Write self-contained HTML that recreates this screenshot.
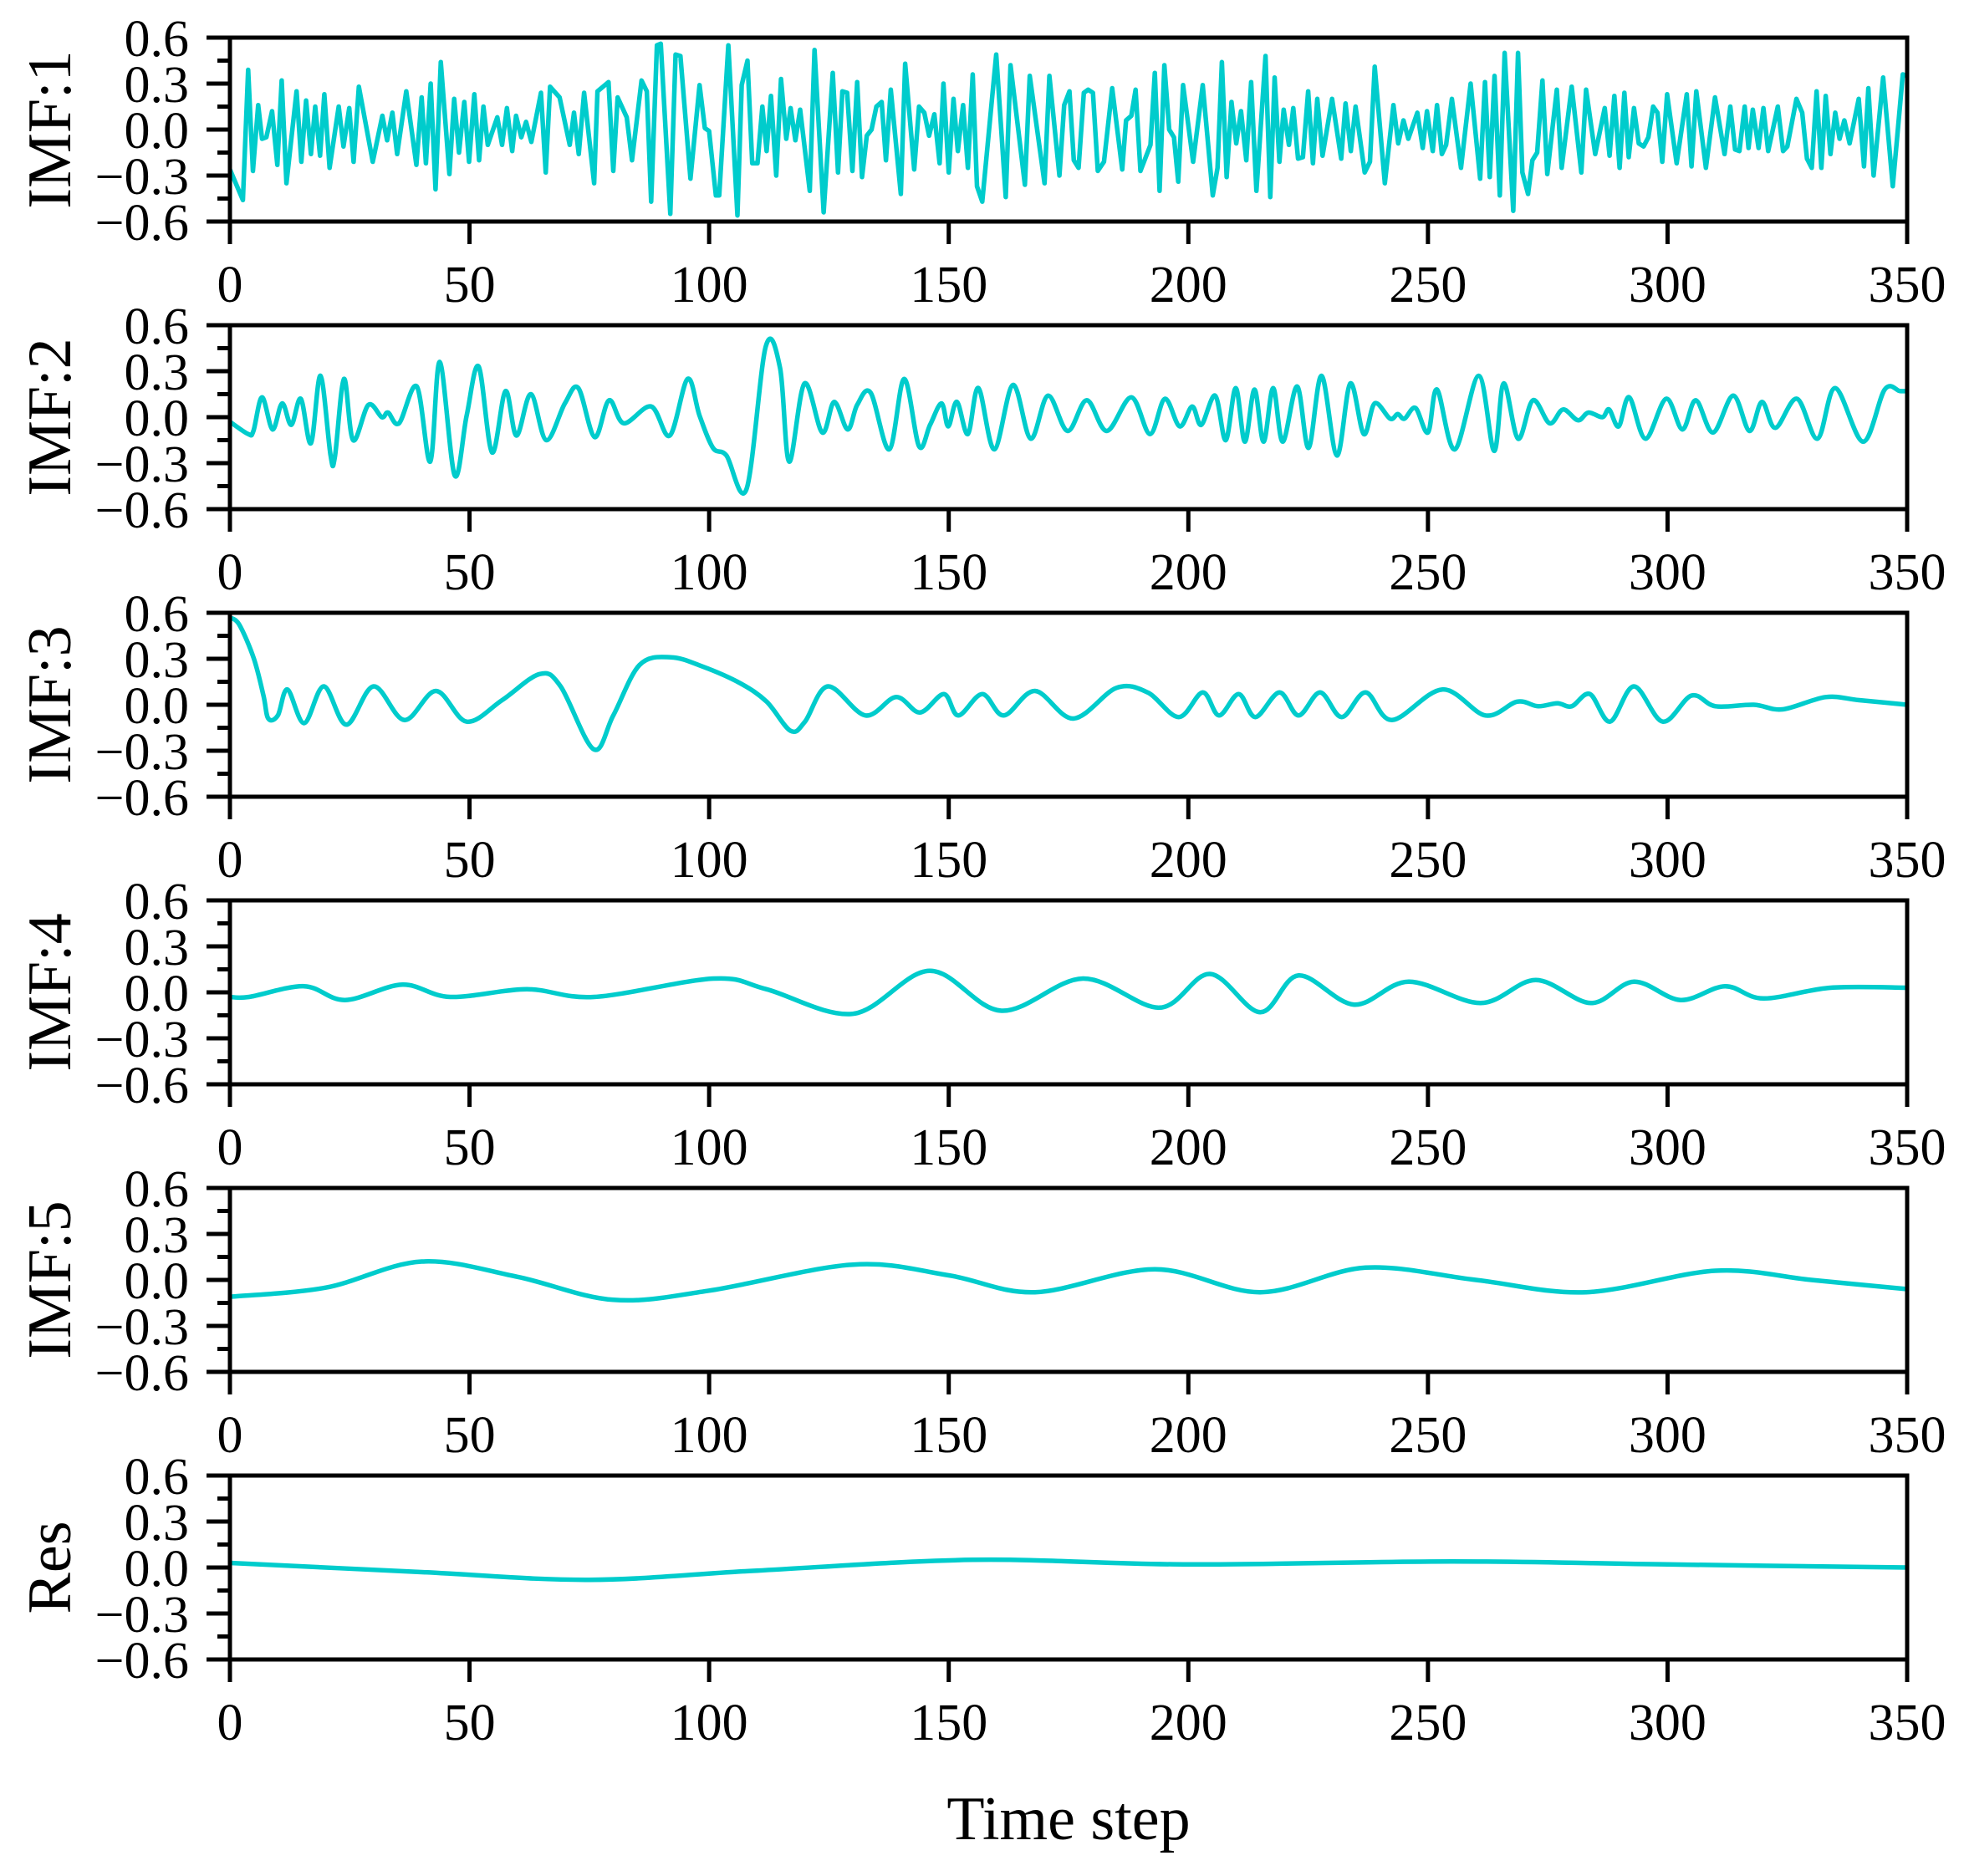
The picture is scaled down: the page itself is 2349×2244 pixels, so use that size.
<!DOCTYPE html>
<html><head><meta charset="utf-8">
<style>
html,body{margin:0;padding:0;background:#fff;}
svg{display:block;font-family:"Liberation Serif","Times New Roman",serif;}
</style></head>
<body>
<svg id="chart" width="2349" height="2244" viewBox="0 0 2349 2244" xmlns="http://www.w3.org/2000/svg">
<rect width="2349" height="2244" fill="#fff"/>
<text x="1278" y="2200" font-size="74" text-anchor="middle">Time step</text>
</svg>
<script>
const panelNames = ["IMF:1","IMF:2","IMF:3","IMF:4","IMF:5","Res"];
const xTicks = [0,50,100,150,200,250,300,350];
const yTicks = [0.6,0.3,0.0,-0.3,-0.6];
const yTickLabels = ["0.6","0.3","0.0","\u22120.3","\u22120.6"];

const t1 = [0,2.7,3.8,4.8,5.9,6.7,7.6,8.8,9.9,10.8,11.8,13.9,14.9,15.9,16.9,17.8,18.8,19.7,20.8,22.7,23.7,24.9,25.8,26.9,29.8,31.8,32.8,33.9,34.9,36.8,38.9,40,40.9,41.9,42.9,44,45.8,46.8,47.8,48.9,49.9,51,52,52.9,53.8,55.8,56.8,57.8,58.9,59.7,60.8,61.8,62.9,64.9,65.9,66.8,68.8,70.9,71.8,72.8,73.9,76,76.7,79,80,80.9,82.8,83.9,85.9,87,87.9,89.1,89.9,91.9,93,94,96.1,98,99.1,100,101.4,102.1,104,105.9,106.8,108,109,110.1,111.1,112,112.9,114,115,116.1,117,118,119,121,122,123.9,125.8,126.9,127.8,128.8,129.9,130.9,131.9,132.9,133.9,134.9,136,136.9,137.9,140,140.9,142.8,143.8,144.9,145.9,147,148.1,148.9,150,151,151.9,153,154,155,155.9,157,159.9,161.9,162.9,165.9,166.9,170,171,173.1,174.1,175.2,176.1,177.1,178.2,179.1,180.1,181.1,182.4,184.1,186.2,187,188.1,189,190,192.1,193,194,195,196,197,197.9,198.9,201,203,205.1,206.1,207,208,209,210,211,212.1,213.1,214.2,216.1,217.1,218,219,219.9,221,221.9,222.9,223.9,225,226,226.9,228,230,231.9,232.8,233.9,234.9,236.8,237.9,238.9,241,242.8,243.8,244.9,245.9,247.8,248.9,249.8,251,251.9,252.9,253.8,255,256.9,258.9,260.9,261.9,262.9,263.9,265,266,267.8,268.8,269.7,270.9,271.8,272.8,273.9,274.9,276.9,277.9,280,282,283,284.9,286.9,287.9,288.9,290,291,291.9,293,294,295,296,297,297.9,298.9,299.9,301.9,304,305,306,308,309.9,311.9,313.1,314.1,315,316.1,316.9,317.8,319,320,321,323,324.1,325,326.9,328.1,329.1,330.1,331.1,332.1,333,334,335,335.9,336.9,338,339.9,341,341.9,343,345,347,349.1,350];
const v1 = [-0.26,-0.46,0.39,-0.27,0.16,-0.06,-0.05,0.12,-0.23,0.32,-0.35,0.25,-0.21,0.19,-0.16,0.15,-0.17,0.23,-0.25,0.15,-0.11,0.14,-0.21,0.28,-0.21,0.09,-0.07,0.11,-0.16,0.25,-0.23,0.21,-0.22,0.30,-0.39,0.44,-0.29,0.20,-0.15,0.18,-0.21,0.23,-0.20,0.15,-0.10,0.08,-0.10,0.14,-0.14,0.09,-0.05,0.05,-0.08,0.24,-0.28,0.28,0.21,-0.10,0.11,-0.16,0.24,-0.35,0.25,0.31,-0.27,0.21,0.08,-0.20,0.32,0.25,-0.47,0.55,0.56,-0.55,0.49,0.48,-0.32,0.29,0.01,-0.01,-0.43,-0.43,0.55,-0.56,0.29,0.45,-0.22,-0.22,0.15,-0.14,0.22,-0.30,0.33,-0.06,0.14,-0.07,0.13,-0.40,0.52,-0.54,0.37,-0.28,0.25,0.24,-0.27,0.31,-0.31,-0.04,0.00,0.15,0.18,-0.20,0.26,-0.42,0.43,-0.26,0.15,0.11,-0.04,0.10,-0.22,0.30,-0.28,0.20,-0.14,0.16,-0.25,0.36,-0.37,-0.47,0.49,-0.44,0.42,-0.36,0.35,-0.35,0.35,-0.30,0.16,0.25,-0.20,-0.25,0.24,0.26,0.24,-0.27,-0.21,0.27,-0.26,0.06,0.09,0.26,-0.27,-0.10,0.37,-0.40,0.42,0.00,-0.05,-0.34,0.29,-0.21,0.29,-0.43,-0.25,0.44,-0.31,0.18,-0.09,0.12,-0.20,0.31,-0.40,0.48,-0.44,0.34,-0.21,0.13,-0.10,0.14,-0.19,-0.18,0.25,-0.22,0.20,-0.17,0.20,-0.19,0.17,-0.14,0.15,-0.28,-0.21,0.41,-0.35,0.16,-0.09,0.06,-0.06,0.11,-0.12,0.12,-0.14,0.16,-0.16,-0.10,0.20,-0.25,0.30,-0.32,0.31,-0.31,0.35,-0.43,0.50,-0.53,0.50,-0.28,-0.42,-0.20,-0.15,0.32,-0.29,0.26,-0.25,0.28,-0.28,0.26,-0.16,0.14,-0.17,0.22,-0.25,0.24,-0.18,0.14,-0.09,-0.11,-0.05,0.15,0.11,-0.21,0.23,-0.22,0.23,-0.24,0.25,-0.25,0.21,-0.16,0.15,-0.13,-0.14,0.15,-0.12,0.13,-0.12,0.14,-0.14,0.15,-0.14,-0.11,0.20,0.11,-0.19,-0.25,0.25,-0.25,0.22,-0.16,0.11,-0.06,0.06,-0.09,0.20,-0.24,0.27,-0.30,0.34,-0.37,0.36,0.35];

const t2 = [0,3.8,4.9,6.7,8.9,10.9,12.8,14.8,16.9,18.9,21,21.9,23.8,25.7,28.9,31.7,33,35.3,39,41.8,43.8,46.9,49.4,51.9,54.7,57.5,59.8,62.8,66,69.9,72.7,76.1,79.1,82.2,87.9,91.8,95.5,98,100.8,103.6,107.8,111.8,114.8,116.7,119.9,123.6,126.1,128.9,130.9,133.7,137.6,140.7,143.8,146.1,148.5,149.9,151.7,154,156.2,159.5,163.4,167.1,170.7,174.8,178.8,183,188.1,192,195.1,198.2,200.8,202.7,205.6,207.8,209.9,211.8,213.8,215.7,217.7,219.7,222.7,225.1,227.8,231,233.8,236.6,238.9,242.1,243.7,245.1,247.4,250,251.9,255.6,260.6,263.8,265.8,268.8,271.9,275.4,278.2,281.3,283.5,286.4,287.8,289.8,292,295.4,299.7,303.1,305.9,309.5,313.7,317.1,319.7,322.5,327,331.3,335,340.8,345.3,348.5,350];
const v2 = [-0.03,-0.11,-0.09,0.13,-0.08,0.09,-0.05,0.12,-0.17,0.27,-0.25,-0.26,0.25,-0.15,0.08,0.00,0.03,-0.04,0.20,-0.29,0.36,-0.38,0.01,0.33,-0.23,0.17,-0.12,0.15,-0.15,0.09,0.19,-0.13,0.11,-0.04,0.07,-0.12,0.25,0.01,-0.20,-0.25,-0.47,0.46,0.32,-0.29,0.22,-0.10,0.10,-0.08,0.08,0.16,-0.21,0.25,-0.19,-0.05,0.09,-0.06,0.10,-0.11,0.19,-0.21,0.21,-0.14,0.14,-0.09,0.11,-0.09,0.13,-0.11,0.12,-0.06,0.07,-0.05,0.14,-0.15,0.19,-0.16,0.18,-0.16,0.19,-0.16,0.20,-0.20,0.27,-0.25,0.22,-0.11,0.09,-0.01,0.02,-0.01,0.06,-0.10,0.18,-0.21,0.27,-0.22,0.22,-0.14,0.11,-0.04,0.05,-0.02,0.03,0.00,0.05,-0.06,0.13,-0.14,0.12,-0.08,0.11,-0.10,0.14,-0.09,0.10,-0.07,0.12,-0.14,0.19,-0.16,0.18,0.17,0.17];

const t3 = [0,2,5,7,8,10,12,15.5,19.6,24.3,30,36.4,43,49.4,56.8,64.6,69,75.9,80,85.5,92,98.6,106.5,112,117,120,124.8,132.6,139,144,149,152,157,161.5,168,176,185,191.5,198,203,206.4,210.5,214,219,223,227.5,232,237,242.5,253,262,268.6,273,277,280,283.8,288,293,299,305,310,318,324,333,340,350];
const v3 = [0.57,0.52,0.30,0.06,-0.09,-0.07,0.10,-0.12,0.12,-0.13,0.12,-0.10,0.09,-0.11,0.03,0.20,0.12,-0.29,-0.07,0.26,0.31,0.25,0.14,0.02,-0.17,-0.11,0.12,-0.07,0.05,-0.05,0.07,-0.07,0.07,-0.07,0.09,-0.09,0.11,0.08,-0.08,0.08,-0.07,0.07,-0.08,0.08,-0.07,0.08,-0.08,0.08,-0.10,0.10,-0.07,0.02,-0.01,0.01,-0.01,0.07,-0.11,0.12,-0.11,0.06,-0.01,0.00,-0.03,0.05,0.03,0.00];

const t4 = [0,4,15.5,24,36,46,62,76,101,112,130,146,161,178,194,204.5,215,223,234.6,246,261,272.5,284,293,302.7,312,320,334,350];
const v4 = [-0.03,-0.03,0.04,-0.05,0.05,-0.03,0.02,-0.03,0.09,0.02,-0.14,0.14,-0.12,0.09,-0.10,0.12,-0.13,0.11,-0.08,0.07,-0.07,0.08,-0.07,0.07,-0.05,0.04,-0.04,0.03,0.03];

const t5 = [0,20,40,60,80,100,130,150,168,193,215,237,260,283,310,330,350];
const v5 = [-0.11,-0.05,0.12,0.02,-0.13,-0.07,0.10,0.03,-0.08,0.07,-0.08,0.08,0.00,-0.08,0.06,0.00,-0.06];

const t6 = [0,40,75,110,155,200,255,300,350];
const v6 = [0.03,-0.03,-0.08,-0.02,0.05,0.02,0.04,0.02,0.00];

const seriesT = [t1,t2,t3,t4,t5,t6];
const seriesV = [v1,v2,v3,v4,v5,v6];
const smoothFlags = [false,true,true,true,true,true];

const NS = "http://www.w3.org/2000/svg";
const svg = document.getElementById("chart");
const X0 = 275, X1 = 2281, PH = 220, TOP0 = 45, STEP = 344;
const xScale = t => X0 + (t/350)*(X1-X0);
function mk(tag, attrs, parent){
  const e = document.createElementNS(NS, tag);
  for (const k in attrs) e.setAttribute(k, attrs[k]);
  (parent||svg).appendChild(e);
  return e;
}
function linePath(pts){ return pts.map((p,i)=>(i?"L":"M")+p[0].toFixed(1)+","+p[1].toFixed(1)).join(""); }
function smoothPath(pts){
  let d = "M"+pts[0][0].toFixed(1)+","+pts[0][1].toFixed(1);
  for (let i=0;i<pts.length-1;i++){
    const p0 = pts[Math.max(0,i-1)], p1 = pts[i], p2 = pts[i+1], p3 = pts[Math.min(pts.length-1,i+2)];
    const c1x = p1[0]+(p2[0]-p0[0])/6, c1y = p1[1]+(p2[1]-p0[1])/6;
    const c2x = p2[0]-(p3[0]-p1[0])/6, c2y = p2[1]-(p3[1]-p1[1])/6;
    d += "C"+c1x.toFixed(1)+","+c1y.toFixed(1)+" "+c2x.toFixed(1)+","+c2y.toFixed(1)+" "+p2[0].toFixed(1)+","+p2[1].toFixed(1);
  }
  return d;
}

for (let p=0;p<6;p++){
  const top = TOP0 + p*STEP, bot = top + PH;
  const yScale = v => top + (0.6 - v)/1.2*PH;
  const g = mk("g", {});
  
  

  const pts = seriesT[p].map((t,i)=>[xScale(t), yScale(seriesV[p][i])]);
  const line = mk("path", {d: smoothFlags[p]?smoothPath(pts):linePath(pts), fill:"none", stroke:"#00CCCC", "stroke-width":5.5, "stroke-linejoin":"round"}, g);
  
  

  const frame = mk("rect", {x:X0, y:top, width:X1-X0, height:PH, fill:"none", stroke:"#000", "stroke-width":5}, g);
  
  

  for (let i=0;i<yTicks.length;i++){
    const y = yScale(yTicks[i]);
    const tk = mk("line", {x1:X0-28, x2:X0, y1:y, y2:y, stroke:"#000", "stroke-width":5}, g);
    
    
    const lb = mk("text", {x:226, y:y+22, "font-size":62, "text-anchor":"end"}, g);
    lb.textContent = yTickLabels[i];
    
    
    if (i < yTicks.length-1){
      const ym = yScale((yTicks[i]+yTicks[i+1])/2);
      const mt = mk("line", {x1:X0-15, x2:X0, y1:ym, y2:ym, stroke:"#000", "stroke-width":5}, g);
      
      
    }
  }
  for (const xt of xTicks){
    const x = xScale(xt);
    const tk = mk("line", {x1:x, x2:x, y1:bot, y2:bot+27, stroke:"#000", "stroke-width":5}, g);
    
    
    const lb = mk("text", {x:x, y:bot+96, "font-size":62, "text-anchor":"middle"}, g);
    lb.textContent = String(xt);
    
    
  }
  const cy = top + PH/2;
  const yl = mk("text", {x:0, y:0, "font-size":74, "text-anchor":"middle", transform:"translate(84,"+cy+") rotate(-90)"}, g);
  yl.textContent = panelNames[p];
  
  
}
</script>
</body></html>
